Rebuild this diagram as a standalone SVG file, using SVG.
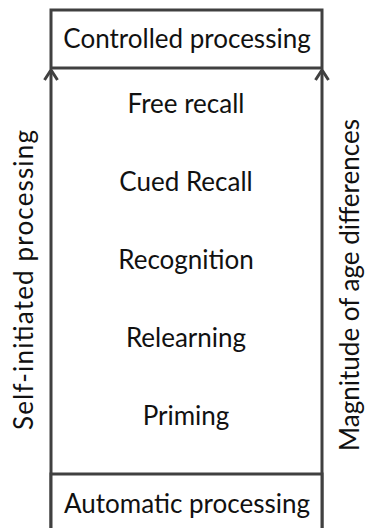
<svg xmlns="http://www.w3.org/2000/svg" width="366" height="528" viewBox="0 0 366 528">
  <style>
    .box { fill: #ffffff; stroke: #404040; stroke-width: 3; }
    .edge { fill: none; stroke: #404040; stroke-width: 3; }
    .lbl { font-family: "Lato", "Liberation Sans", sans-serif; font-size: 26px; fill: #111111; text-anchor: middle; }
  </style>
  <defs>
    <!-- chevron arrowhead, drawn along +x so orient="auto" points it along the line -->
    <marker id="arrowHead" markerUnits="userSpaceOnUse" markerWidth="18" markerHeight="18" refX="15" refY="9" orient="auto" viewBox="0 0 18 18">
      <path d="M5,2.5 L15,9 L5,15.5" fill="none" stroke="#404040" stroke-width="3"/>
    </marker>
  </defs>
  <rect width="366" height="528" fill="#ffffff"/>

  <!-- vertical axes running from automatic up to controlled processing -->
  <g id="connectors">
    <line class="edge" x1="51" y1="540" x2="51" y2="70" marker-end="url(#arrowHead)"/>
    <line class="edge" x1="322" y1="540" x2="322" y2="70" marker-end="url(#arrowHead)"/>
  </g>

  <g id="controlled">
    <rect class="box" x="51" y="10" width="271" height="58"/>
    <text class="lbl" x="187" y="48">Controlled processing</text>
  </g>

  <g id="automatic">
    <rect class="box" x="51" y="474" width="271" height="70"/>
    <text class="lbl" x="187" y="513">Automatic processing</text>
  </g>

  <g id="free-recall"><text class="lbl" x="186" y="113">Free recall</text></g>
  <g id="cued-recall"><text class="lbl" x="186" y="191">Cued Recall</text></g>
  <g id="recognition"><text class="lbl" x="186" y="269">Recognition</text></g>
  <g id="relearning"><text class="lbl" x="186" y="347">Relearning</text></g>
  <g id="priming"><text class="lbl" x="186" y="425">Priming</text></g>

  <g id="self-initiated">
    <text class="lbl" transform="translate(33,280) rotate(-90)" textLength="300" lengthAdjust="spacing">Self-initiated processing</text>
  </g>
  <g id="age-differences">
    <text class="lbl" transform="translate(359,285) rotate(-90)">Magnitude of age differences</text>
  </g>
</svg>
